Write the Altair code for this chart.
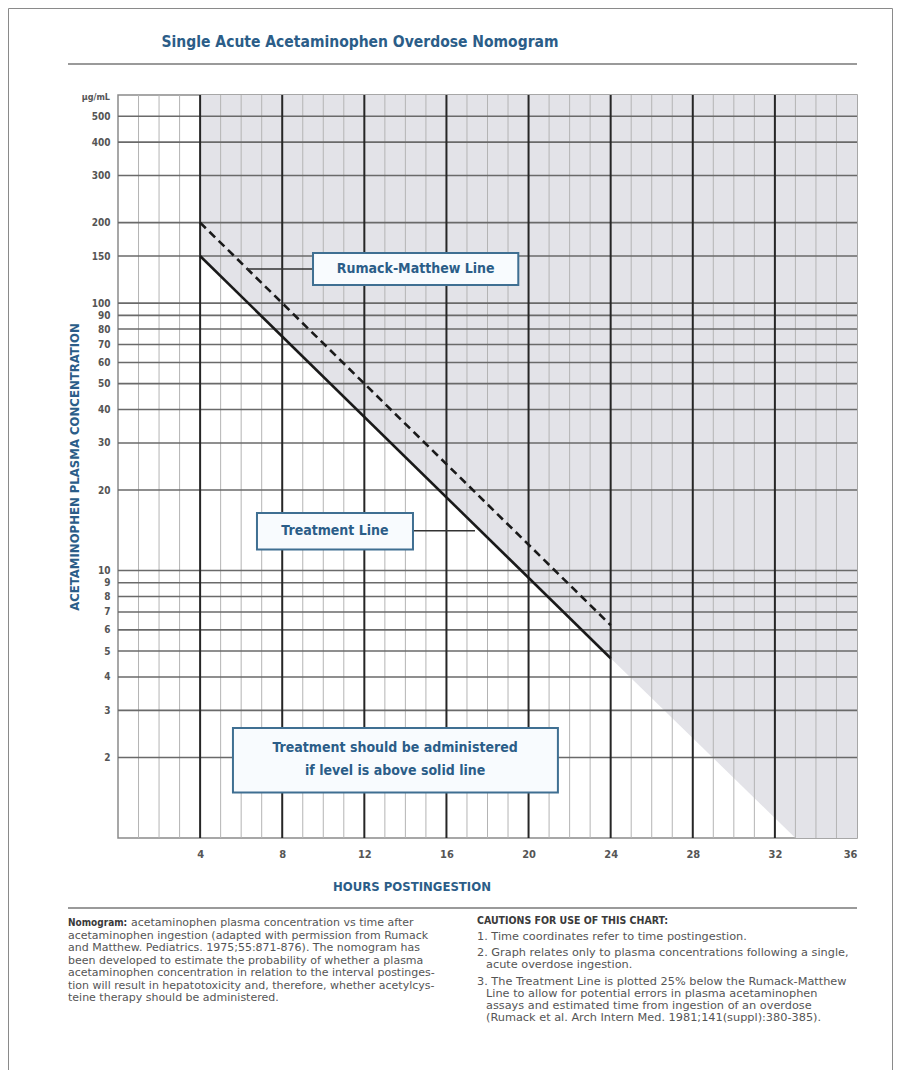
import altair as alt
import pandas as pd

# ---------------- data ----------------
line_hours = [4, 24]
rumack_conc = [200, 6.25]
treatment_conc = [150, 4.7]

# shaded "treat" region: lower edge follows treatment line, extended to floor
shade_hours = [4, 24, 33, 36]
shade_low = [150, 4.7, 1, 1]
shade_high = [600, 600, 600, 600]

y_ticks = [2, 3, 4, 5, 6, 7, 8, 9, 10, 20, 30, 40, 50, 60, 70, 80, 90, 100,
           150, 200, 300, 400, 500]
x_ticks = [4, 8, 12, 16, 20, 24, 28, 32, 36]
minor_hours = [1, 2, 3, 5, 6, 7, 9, 10, 11, 13, 14, 15, 17, 18, 19, 21, 22, 23,
               25, 26, 27, 29, 30, 31, 33, 34, 35]
major_hours = [4, 8, 12, 16, 20, 24, 28, 32]

left_note = [
    "acetaminophen ingestion (adapted with permission from Rumack",
    "and Matthew. Pediatrics. 1975;55:871-876). The nomogram has",
    "been developed to estimate the probability of whether a plasma",
    "acetaminophen concentration in relation to the interval postinges-",
    "tion will result in hepatotoxicity and, therefore, whether acetylcys-",
    "teine therapy should be administered.",
]
cautions = [
    ("1. Time coordinates refer to time postingestion.", 0),
    ("2. Graph relates only to plasma concentrations following a single,", 0),
    ("acute overdose ingestion.", 1),
    ("3. The Treatment Line is plotted 25% below the Rumack-Matthew", 0),
    ("Line to allow for potential errors in plasma acetaminophen", 1),
    ("assays and estimated time from ingestion of an overdose", 1),
    ("(Rumack et al. Arch Intern Med. 1981;141(suppl):380-385).", 1),
]

# ---------------- styling ----------------
W, H = 739, 743
BLUE = "#2b5d88"
BOXBLUE = "#3f6f92"
GREY_TXT = "#555555"
COND = "'DejaVu Sans Condensed', 'Liberation Sans Narrow', 'Roboto Condensed', 'DejaVu Sans', sans-serif"
BODY = "'DejaVu Sans', 'Open Sans', sans-serif"

xs = alt.Scale(domain=[0, 36], nice=False, zero=False)
ys = alt.Scale(type="log", domain=[1, 600], nice=False)

x_axis = alt.Axis(values=x_ticks, grid=False, domain=False, ticks=False,
                  labelFont=COND, labelFontSize=11, labelFontWeight="bold",
                  labelColor=GREY_TXT, labelPadding=10, title=None,
                  labelOverlap=False)
y_axis = alt.Axis(values=y_ticks, grid=False, domain=False, ticks=False,
                  format="d", labelFont=COND, labelFontSize=10,
                  labelFontWeight="bold", labelColor=GREY_TXT, labelPadding=8,
                  title=None, labelOverlap=False)

one = pd.DataFrame({"k": [0]})

def X(field):
    return alt.X(field, type="quantitative", scale=xs, axis=x_axis)

def Y(field):
    return alt.Y(field, type="quantitative", scale=ys, axis=y_axis)

# shading
shade_df = pd.DataFrame({"h": shade_hours, "lo": shade_low, "hi": shade_high})
shade = alt.Chart(shade_df).mark_area(color="#e3e3e8", opacity=1).encode(
    x=X("h"), y=Y("lo"), y2="hi")

# grid
minor = alt.Chart(pd.DataFrame({"h": minor_hours})).mark_rule(
    color="#b4b4b4", strokeWidth=1).encode(x=X("h"))
hgrid = alt.Chart(pd.DataFrame({"c": y_ticks})).mark_rule(
    color="#6a6a6a", strokeWidth=1.6).encode(y=Y("c"))
major = alt.Chart(pd.DataFrame({"h": major_hours})).mark_rule(
    color="#262626", strokeWidth=2).encode(x=X("h"))

# nomogram lines
lines_df = pd.DataFrame({"h": line_hours, "rm": rumack_conc, "tr": treatment_conc})
rumack = alt.Chart(lines_df).mark_line(color="#1a1a1a", strokeWidth=2.6,
                                       strokeDash=[8, 5]).encode(x=X("h"), y=Y("rm"))
treat = alt.Chart(lines_df).mark_line(color="#1a1a1a", strokeWidth=2.6).encode(
    x=X("h"), y=Y("tr"))

# annotation boxes (in data units)
def box(x1, x2, y1, y2):
    d = pd.DataFrame({"x1": [x1], "x2": [x2], "y1": [y1], "y2": [y2]})
    return alt.Chart(d).mark_rect(fill="#f8fbfe", stroke=BOXBLUE, strokeWidth=2).encode(
        x=X("x1"), x2="x2", y=Y("y1"), y2="y2")

def connector(x1, x2, yv):
    d = pd.DataFrame({"x1": [x1], "x2": [x2], "y": [yv]})
    return alt.Chart(d).mark_rule(color="#333333", strokeWidth=1.5).encode(
        x=X("x1"), x2="x2", y=Y("y"))

def boxtext(s, xv, yv, size=14):
    d = pd.DataFrame({"x": [xv], "y": [yv]})
    return alt.Chart(d).mark_text(font=COND, fontSize=size, fontWeight="bold",
                                  color=BLUE, align="center", baseline="middle").encode(
        x=X("x"), y=Y("y"), text=alt.value(s))

annots = [
    connector(6.28, 9.5, 134), box(9.5, 19.5, 117, 154),
    boxtext("Rumack-Matthew Line", 14.5, 134),
    connector(14.37, 17.39, 14.1), box(6.77, 14.37, 12.0, 16.4),
    boxtext("Treatment Line", 10.57, 14.1),
    box(5.6, 21.43, 1.48, 2.58),
    boxtext("Treatment should be administered", 13.5, 2.17),
    boxtext("if level is above solid line", 13.5, 1.78),
]

# free text (pixel positions relative to plot origin)
def txt(s, x, y, size=11, color=GREY_TXT, weight="normal", font=BODY,
        align="left", angle=None, style="normal"):
    kw = dict(font=font, fontSize=size, color=color, fontWeight=weight,
              align=align, baseline="middle", fontStyle=style)
    if angle is not None:
        kw["angle"] = angle
    return alt.Chart(one).mark_text(**kw).encode(
        x=alt.value(x), y=alt.value(y), text=alt.value(s))

def hrule(x1, x2, y, color="#9a9a9a", w=2):
    return alt.Chart(one).mark_rule(color=color, strokeWidth=w).encode(
        x=alt.value(x1), x2=alt.value(x2), y=alt.value(y))

def vrule(x, y1, y2, color="#9a9a9a", w=1):
    return alt.Chart(one).mark_rule(color=color, strokeWidth=w).encode(
        x=alt.value(x), y=alt.value(y1), y2=alt.value(y2))

LX = -50   # left column of notes
RX = 359   # right column of notes
texts = [
    # page frame
    hrule(-109.5, 774.5, -86.5, "#8a8a8a", 1),
    vrule(-109.5, -86.5, 980, "#8a8a8a", 1),
    vrule(774.5, -86.5, 980, "#8a8a8a", 1),
    txt("Single Acute Acetaminophen Overdose Nomogram", 242, -53, size=15.5,
        color=BLUE, weight="bold", font=COND, align="center"),
    hrule(LX, W, -31),
    txt("\u00b5g/mL", -8, 2, size=9, weight="bold", font=COND, align="right"),
    txt("ACETAMINOPHEN PLASMA CONCENTRATION", -43, 372, size=13, color=BLUE,
        weight="bold", font=COND, align="center", angle=270),
    txt("HOURS POSTINGESTION", 294, 792, size=13, color=BLUE, weight="bold",
        font=COND, align="center"),
    hrule(LX, W, 813),
    txt("Nomogram:", LX, 828, size=10, weight="bold", color="#3a3a3a", font=COND),
    txt("acetaminophen plasma concentration vs time after", LX + 63, 828),
    txt("CAUTIONS FOR USE OF THIS CHART:", RX, 826, weight="bold",
        color="#3a3a3a", size=10.5, font=COND),
]
for i, line in enumerate(left_note):
    texts.append(txt(line, LX, 840.5 + 12.5 * i))
cy = [842, 858, 870, 887, 899, 911, 923]
for (line, ind), yv in zip(cautions, cy):
    texts.append(txt(line, RX + 9 * ind, yv, size=11.3))

chart = alt.layer(shade, minor, hgrid, major, rumack, treat, *annots, *texts).properties(
    width=W, height=H,
    autosize=alt.AutoSizeParams(type="none"),
    padding={"left": 110, "top": 87, "right": 36, "bottom": 232},
    background="white",
).configure_view(stroke="#8a8a8a", strokeWidth=1.5)

chart.save("out.html", embed_options={"renderer": "svg", "actions": False})
